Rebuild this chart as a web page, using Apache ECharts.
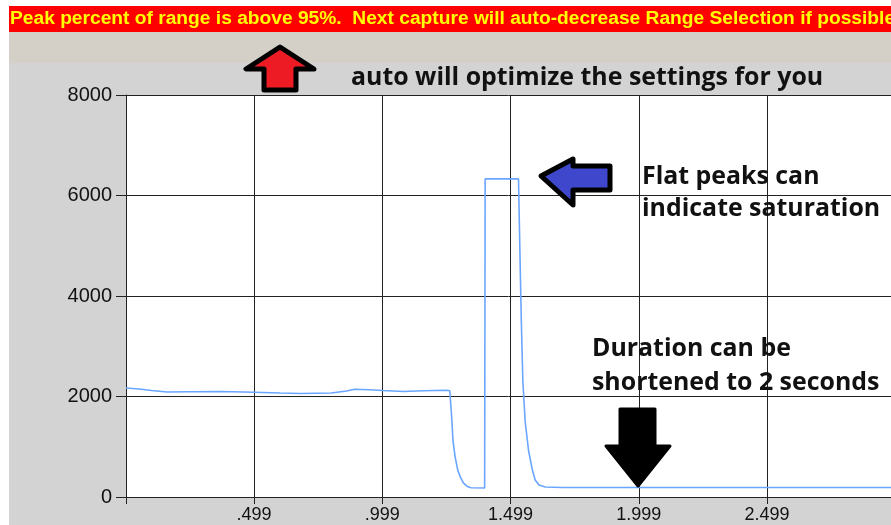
<!DOCTYPE html>
<html><head><meta charset="utf-8">
<script src="https://cdn.jsdelivr.net/npm/echarts@6/dist/echarts.min.js"></script>
<style>html,body{margin:0;padding:0;background:#fff}#c{width:891px;height:525px}</style>
</head><body><div id="c"></div>
<script>
const bannerText = 'Peak percent of range is above 95%.  Next capture will auto-decrease Range Selection if possible';
const noteAuto = 'auto will optimize the settings for you';
const notePeak = ['Flat peaks can', 'indicate saturation'];
const noteDuration = ['Duration can be', 'shortened to 2 seconds'];

const xTickValues = [0.499, 0.999, 1.499, 1.999, 2.499];
const xMax = 2.982;
const yMin = 0, yMax = 8000, yStep = 2000;

const timeSec = [0, 0.05, 0.10, 0.16, 0.25, 0.37, 0.50, 0.60, 0.68, 0.80, 0.86, 0.89, 0.95, 1.00, 1.08, 1.16, 1.25, 1.262,
  1.268, 1.275, 1.283, 1.293, 1.303, 1.315, 1.33, 1.345, 1.398, 1.400, 1.530, 1.535, 1.541, 1.547, 1.556, 1.569, 1.583,
  1.595, 1.61, 1.634, 1.70, 1.90, 2.10, 2.30, 2.50, 2.70, 2.90, 2.982];
const signal = [2170, 2150, 2120, 2090, 2095, 2100, 2085, 2070, 2060, 2070, 2110, 2145, 2135, 2120, 2100, 2115, 2125, 2115,
  1700, 1100, 800, 540, 400, 280, 210, 185, 180, 6330, 6330, 5000, 3500, 2300, 1500, 930, 560,
  340, 240, 200, 190, 188, 190, 188, 190, 188, 190, 190];

const lineData = timeSec.map((t, i) => [t, signal[i]]);

const chart = echarts.init(document.getElementById('c'), null, {renderer: 'canvas'});
const noteFont = 'bold 24.9px "Open Sans"';
const axisFont = '"Liberation Sans", Arial, sans-serif';
chart.setOption({
  backgroundColor: '#d3d3d3',
  animation: false,
  grid: {left: 126, top: 95, right: 0, height: 402, show: true, backgroundColor: '#ffffff', borderWidth: 0},
  xAxis: {
    type: 'value', min: 0, max: xMax,
    axisLine: {show: true, lineStyle: {color: '#222', width: 1}},
    axisTick: {show: true, length: 7, customValues: [0].concat(xTickValues), lineStyle: {color: '#222'}},
    axisLabel: {customValues: xTickValues, margin: 9, color: '#111', fontSize: 18, fontFamily: axisFont,
      formatter: v => v.toFixed(3).replace(/^0/, '')},
    splitLine: {show: true, lineStyle: {color: '#222', width: 1}}
  },
  yAxis: {
    type: 'value', min: yMin, max: yMax, interval: yStep,
    axisLine: {show: true, lineStyle: {color: '#222', width: 1}},
    axisTick: {show: true, length: 10, lineStyle: {color: '#222'}},
    axisLabel: {margin: 14, color: '#111', fontSize: 20, fontFamily: axisFont, formatter: v => String(v)},
    splitLine: {show: true, lineStyle: {color: '#222', width: 1}}
  },
  series: [{
    type: 'line', data: lineData, showSymbol: false, symbol: 'none',
    lineStyle: {color: '#6aa6ff', width: 1.6}, z: 3
  }],
  graphic: [
    {type: 'rect', shape: {x: 0, y: 0, width: 891, height: 6}, style: {fill: '#ffffff'}, z: 1},
    {type: 'rect', shape: {x: 0, y: 0, width: 9, height: 525}, style: {fill: '#ffffff'}, z: 1},
    {type: 'rect', shape: {x: 9, y: 6, width: 882, height: 26}, style: {fill: '#ff0000'}, z: 1},
    {type: 'rect', shape: {x: 9, y: 32, width: 882, height: 31}, style: {fill: '#d4d0c8'}, z: 1},
    {type: 'text', x: 10, y: 19, style: {text: bannerText, fill: '#ffff00', font: 'bold 19.2px "Liberation Sans", Arial, sans-serif', verticalAlign: 'middle'}, z: 2},
    {type: 'polygon', shape: {points: [[280, 47], [246, 69], [264, 69], [264, 90], [296, 90], [296, 69], [314, 69]]},
      style: {fill: '#ed1c24', stroke: '#000', lineWidth: 5, lineJoin: 'round'}, z: 5},
    {type: 'polygon', shape: {points: [[541, 176], [573, 159], [573, 166], [610, 166], [610, 190], [573, 190], [573, 205]]},
      style: {fill: '#3f48cc', stroke: '#000', lineWidth: 5, lineJoin: 'round'}, z: 5},
    {type: 'polygon', shape: {points: [[620, 409], [655, 409], [655, 446], [670, 446], [638, 486], [606, 446], [620, 446]]},
      style: {fill: '#000', stroke: '#000', lineWidth: 3, lineJoin: 'round'}, z: 5},
    {type: 'text', x: 351, y: 78, style: {text: noteAuto, fill: '#111', font: noteFont, verticalAlign: 'middle'}, z: 5},
    {type: 'text', x: 642, y: 177, style: {text: notePeak[0], fill: '#111', font: noteFont, verticalAlign: 'middle'}, z: 5},
    {type: 'text', x: 642, y: 209, style: {text: notePeak[1], fill: '#111', font: noteFont, verticalAlign: 'middle'}, z: 5},
    {type: 'text', x: 592, y: 349, style: {text: noteDuration[0], fill: '#111', font: noteFont, verticalAlign: 'middle'}, z: 5},
    {type: 'text', x: 592, y: 383, style: {text: noteDuration[1], fill: '#111', font: noteFont, verticalAlign: 'middle'}, z: 5}
  ]
});
</script></body></html>
